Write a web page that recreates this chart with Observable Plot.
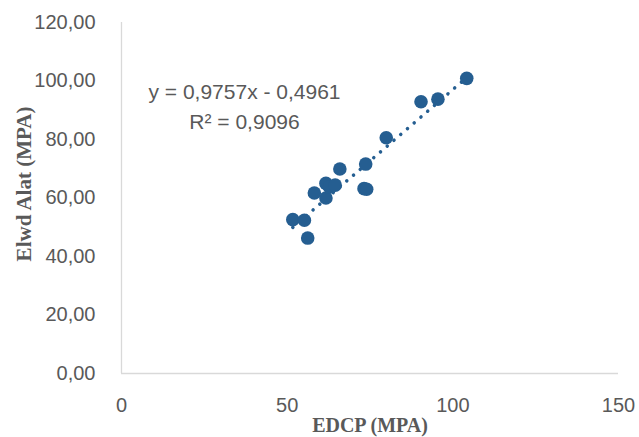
<!DOCTYPE html>
<html>
<head>
<meta charset="utf-8">
<script src="https://cdn.jsdelivr.net/npm/d3@7"></script>
<script src="https://cdn.jsdelivr.net/npm/@observablehq/plot@0.6"></script>
<style>
  html, body { margin: 0; padding: 0; background: #fff; }
  #chart svg { display: block; }
</style>
</head>
<body>
<div id="chart"></div>
<script>
// Data
const edcp = [51.7, 55.2, 56.2, 58.2, 61.7, 61.7, 62.8, 64.5, 65.9, 73.2, 74.0, 73.7, 79.9, 90.4, 95.5, 104.2];
const elwd = [52.6, 52.4, 46.3, 61.7, 60.0, 65.0, 63.8, 64.4, 69.9, 63.2, 63.0, 71.6, 80.6, 92.9, 93.8, 100.9];
const xTicks = [0, 50, 100, 150];
const yTicks = [0, 20, 40, 60, 80, 100, 120];
const slope = [0.9757];
const intercept = [-0.4961];
const equationLines = ["y = 0,9757x - 0,4961", "R² = 0,9096"];
const xTitle = ["EDCP (MPA)"];
const yTitle = ["Elwd Alat (MPA)"];

const points = edcp.map((x, i) => ({x, y: elwd[i]}));
const xMin = d3.min(edcp), xMax = d3.max(edcp);
const trend = [xMin, xMax].map(x => ({x, y: slope[0] * x + intercept[0]}));

const blue = "#255e91";
const gray = "#595959";
const sans = "'Liberation Sans', Arial, sans-serif";
const serif = "'Liberation Serif', 'Times New Roman', serif";
const fmt = v => d3.format(".2f")(v).replace(".", ",");

const chart = Plot.plot({
  width: 639,
  height: 437,
  marginLeft: 121,
  marginRight: 21,
  marginTop: 22,
  marginBottom: 64,
  style: {fontFamily: sans, fontSize: "20px", color: gray, background: "#fff"},
  x: {domain: [0, 150]},
  y: {domain: [0, 120]},
  marks: [
    Plot.axisX({ticks: xTicks, tickSize: 0, tickPadding: 24, label: null, fontSize: 20, fill: gray}),
    Plot.axisY({ticks: yTicks, tickSize: 0, tickPadding: 26, tickFormat: fmt, label: null, fontSize: 20, fill: gray}),
    Plot.ruleY([0], {stroke: "#d9d9d9", strokeWidth: 1.3}),
    Plot.ruleX([0], {stroke: "#d9d9d9", strokeWidth: 1.3}),
    Plot.line(trend, {x: "x", y: "y", stroke: blue, strokeWidth: 3.5, strokeDasharray: "0.1 8.8", strokeLinecap: "round"}),
    Plot.dot(points, {x: "x", y: "y", r: 6.8, fill: blue, stroke: "none"}),
    Plot.text([equationLines.join("\n")], {text: d => d, frameAnchor: "top-left", dx: 123, dy: 82, lineAnchor: "middle", textAnchor: "middle", lineHeight: 1.4, fill: gray, fontSize: 21, fontFamily: sans}),
    Plot.text(xTitle, {text: d => d, frameAnchor: "bottom", dy: 52, lineAnchor: "middle", textAnchor: "middle", fill: gray, fontSize: 20, fontWeight: "bold", fontFamily: serif}),
    Plot.text(yTitle, {text: d => d, frameAnchor: "left", dx: -97, dy: -14, textAnchor: "middle", lineAnchor: "middle", rotate: -90, fill: gray, fontSize: 21, fontWeight: "bold", fontFamily: serif})
  ]
});
document.getElementById("chart").appendChild(chart);
</script>
</body>
</html>
